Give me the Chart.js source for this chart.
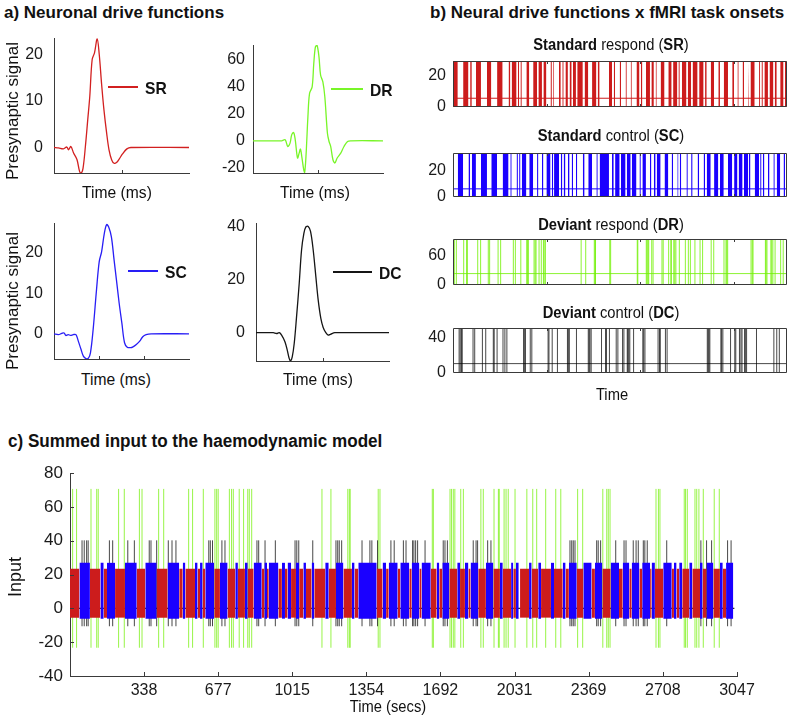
<!DOCTYPE html>
<html>
<head>
<meta charset="utf-8">
<script src="https://cdn.jsdelivr.net/npm/chart.js@4.4.0/dist/chart.umd.min.js"></script>
<style>
  body { margin: 0; background: #fff; width: 789px; height: 720px; position: relative; overflow: hidden;
         font-family: "Liberation Sans", Arial, sans-serif; color: #111; }
  canvas { position: absolute; }
  .t { position: absolute; white-space: nowrap; line-height: 1; }
  .head { font-weight: bold; font-size: 17px; }
  .leg { position: absolute; height: 1.4px; }
</style>
</head>
<body>
<script>
// ---- a) neuronal drive functions (time in ms, arbitrary origin) ----
const srTime   = [0, 13, 28, 38, 43, 50, 58, 68, 76, 81, 86, 93, 100, 106, 113, 120, 128, 134, 141, 148, 156, 163, 171, 178, 186, 193, 203, 216, 228, 400];
const srSignal = [0, -0.1, -0.3, 0.1, -0.5, 0.2, -1.2, -2.6, -5.2, -5.5, -4.5, 0.2, 6.0, 11.0, 18.9, 20.4, 23.4, 20.1, 13.7, 8.1, 3.1, -0.5, -2.7, -3.4, -3.2, -2.5, -1.4, -0.3, 0, 0];

const drTime   = [0, 88, 99, 107, 114, 119, 125, 130, 137, 142, 146, 150, 156, 159, 163, 169, 174, 182, 187, 192, 197, 203, 208, 215, 221, 229, 234, 239, 246, 252, 259, 270, 280, 291, 301, 400];
const drSignal = [0, 0, 0.7, -4.2, -1.7, 4.4, 6.1, 0.7, -12.7, -9.1, -6.1, -11.5, -21.3, -23.3, -11.5, 17.9, 35.0, 39.9, 57.1, 69.4, 70.6, 62.0, 48.5, 43.6, 32.6, 5.6, -0.5, -4.2, -14.0, -16.4, -12.7, -9.1, -4.2, -0.5, 0, 0];

const scTime   = [0, 13, 23, 30, 35, 42, 49, 57, 65, 72, 80, 87, 95, 102, 108, 116, 126, 134, 141, 149, 156, 162, 170, 178, 185, 193, 201, 209, 217, 227, 234, 244, 254, 263, 273, 288, 400];
const scSignal = [0, -0.2, 0.1, 0.2, -0.4, -0.2, -0.4, -0.2, -0.2, -1.8, -3.8, -5.5, -6.1, -6.0, -4.7, 1.1, 10.9, 17.8, 20.2, 24.7, 26.9, 26.3, 23.9, 18.2, 13.3, 7.6, 2.7, -2.2, -3.3, -3.4, -3.2, -2.6, -1.8, -0.7, -0.2, 0, 0];

const dcTime   = [0, 32, 52, 62, 70, 77, 87, 94, 100, 104, 109, 115, 122, 130, 137, 144, 150, 157, 164, 172, 180, 187, 195, 202, 210, 217, 224, 237, 252, 400];
const dcSignal = [0, 0, 0, -0.3, 0, -0.9, -3.4, -6.6, -9.8, -10.6, -9.1, -4.0, 6.1, 18.7, 31.3, 37.6, 40.0, 40.2, 38.3, 31.3, 21.2, 12.4, 5.4, 2.0, 0, -0.9, -0.6, 0, 0, 0];

// ---- b/c) task onsets in seconds ----
// standard trials come in runs: [start, end] of each run
const scBlocks = [[43,91],[139,154],[169,206],[251,305],[344,396],[446,499],[515,527],[571,583],[594,606],[618,659],[685,720],[755,767],[799,812],[839,876],[888,900],[908,952],[968,982],[994,1010],[1032,1047],[1066,1078],[1104,1116],[1166,1182],[1215,1249],[1288,1300],[1317,1401],[1428,1444],[1456,1497],[1509,1550],[1561,1596],[1606,1648],[1675,1687],[1701,1733],[1769,1782],[1804,1820],[1830,1865],[1900,1934],[1964,1977],[2015,2025],[2037,2050],[2097,2109],[2139,2152],[2197,2211],[2251,2264],[2279,2315],[2345,2383],[2398,2432],[2470,2508],[2525,2555],[2566,2601],[2614,2650],[2657,2672],[2710,2749],[2759,2771],[2783,2797],[2829,2843],[2878,2890],[2908,2939],[2969,2982],[2997,3030]];
const srBlocks = [[0,43],[91,139],[154,169],[206,251],[305,344],[396,446],[499,515],[527,571],[583,594],[606,618],[659,685],[720,755],[767,799],[812,839],[876,888],[900,908],[952,968],[982,994],[1010,1032],[1047,1066],[1078,1104],[1116,1166],[1182,1215],[1249,1288],[1300,1317],[1401,1428],[1444,1456],[1497,1509],[1550,1561],[1596,1606],[1648,1675],[1687,1701],[1733,1769],[1782,1804],[1820,1830],[1865,1900],[1934,1964],[1977,2015],[2025,2037],[2056,2097],[2109,2139],[2152,2197],[2211,2251],[2264,2279],[2315,2345],[2383,2398],[2432,2470],[2508,2525],[2555,2566],[2601,2614],[2650,2657],[2672,2710],[2749,2759],[2771,2783],[2797,2829],[2843,2878],[2890,2908],[2939,2969],[2982,2997]];
const drOnsets = [12, 30, 96, 122, 129, 222, 248, 317, 329, 405, 428, 542, 560, 609, 662, 670, 677, 728, 738, 746, 773, 793, 812, 819, 830, 1151, 1192, 1269, 1276, 1280, 1408, 1416, 1655, 1660, 1736, 1743, 1751, 1758, 1785, 1797, 1877, 1888, 1937, 1957, 1961, 1983, 1992, 2002, 2033, 2087, 2114, 2132, 2173, 2219, 2242, 2319, 2342, 2434, 2452, 2459, 2467, 2677, 2688, 2695, 2806, 2812, 2820, 2855, 2863, 2873, 2893, 2943, 2966];
const dcOnsets = [55, 65, 76, 83, 180, 195, 264, 294, 362, 370, 396, 449, 466, 484, 634, 641, 651, 694, 708, 854, 862, 891, 938, 1028, 1036, 1045, 1109, 1215, 1223, 1230, 1241, 1334, 1370, 1379, 1405, 1466, 1481, 1523, 1535, 1565, 1571, 1579, 1588, 1622, 1705, 1713, 1724, 1842, 1855, 1862, 1908, 1923, 2284, 2292, 2299, 2307, 2406, 2413, 2424, 2493, 2531, 2540, 2573, 2586, 2596, 2619, 2626, 2637, 2726, 2882, 2908, 2931, 3004, 3020];
const sessionEnd = 3035;

// ---- ticks ----
const timeTicks  = [338, 677, 1015, 1354, 1692, 2031, 2369, 2708, 3047];
const inputTicks = [-40, -20, 0, 20, 40, 60, 80];
const stripTimeTicks = [840, 1680, 2520];

const RED = '#cc1c1c', BLUE = '#1a00ff', GREEN = 'rgba(112,240,0,0.8)', BLACK = 'rgba(0,0,0,0.72)';
const AXIS = '#3a3a3a';
Chart.defaults.font.family = '"Liberation Sans", Arial, sans-serif';
Chart.defaults.color = '#1a1a1a';

const lo = a => Math.min(...a), hi = a => Math.max(...a);

function curve(time, signal) {
  return time.map((t, i) => ({ x: t, y: signal[i] }));
}
function blocks(list, top) {
  const d = [];
  list.forEach(([s, e]) => { d.push({ x: s, y: top }, { x: e, y: top }, { x: e, y: null }); });
  return d;
}
function sticks(list, bottom, top) {
  const d = [];
  list.forEach(t => { d.push({ x: t, y: bottom }, { x: t, y: top }, { x: t, y: null }); });
  return d;
}

// small inward tick marks and optional frame, drawn through the chart scales
function frame(o) {
  return {
    id: 'frame',
    afterDatasetsDraw(chart) {
      const { ctx, chartArea: a, scales: { x, y } } = chart;
      ctx.save();
      ctx.strokeStyle = AXIS;
      ctx.lineWidth = 1;
      ctx.beginPath();
      (o.xTicks || []).forEach(v => {
        const px = Math.round(x.getPixelForValue(v)) + 0.5;
        ctx.moveTo(px, a.bottom); ctx.lineTo(px, a.bottom - o.len);
        if (o.box) { ctx.moveTo(px, a.top); ctx.lineTo(px, a.top + o.len); }
      });
      (o.yTicks || []).forEach(v => {
        const py = Math.round(y.getPixelForValue(v)) + 0.5;
        ctx.moveTo(a.left, py); ctx.lineTo(a.left + o.len, py);
        if (o.box) { ctx.moveTo(a.right, py); ctx.lineTo(a.right - o.len, py); }
      });
      if (o.box) ctx.rect(a.left + 0.5, a.top + 0.5, a.right - a.left - 1, a.bottom - a.top - 1);
      ctx.stroke();
      ctx.restore();
    }
  };
}

function makeChart(p, o) {
  const c = document.createElement('canvas');
  const w = p.r - p.l + o.yW + o.padR, h = p.b - p.t + o.padT + o.xH;
  c.width = w; c.height = h;
  c.style.left = (p.l - o.yW) + 'px'; c.style.top = (p.t - o.padT) + 'px';
  c.style.width = w + 'px'; c.style.height = h + 'px';
  document.body.appendChild(c);
  return new Chart(c, {
    type: 'line',
    data: { datasets: o.datasets },
    options: {
      responsive: false, animation: false, devicePixelRatio: 1, events: [],
      layout: { padding: { top: o.padT, right: o.padR, left: 0, bottom: 0 } },
      plugins: { legend: { display: false }, tooltip: { enabled: false } },
      elements: { point: { radius: 0 }, line: { tension: 0 } },
      scales: {
        x: {
          type: 'linear', min: o.xMin, max: o.xMax,
          afterBuildTicks: s => { s.ticks = (o.xLabels || []).map(v => ({ value: v })); },
          afterFit: s => { s.height = o.xH; s.paddingLeft = 0; s.paddingRight = 0; },
          grid: { display: false, drawTicks: false },
          border: { display: !o.box, color: AXIS, width: 1 },
          ticks: { display: !!o.xLabels, font: { size: 16 }, padding: 5, maxRotation: 0, autoSkip: false, callback: v => String(v) }
        },
        y: {
          type: 'linear', min: o.yMin, max: o.yMax,
          afterBuildTicks: s => { s.ticks = o.yLabels.map(v => ({ value: v })); },
          afterFit: s => { s.width = o.yW; s.paddingTop = 0; s.paddingBottom = 0; },
          grid: { display: false, drawTicks: false },
          border: { display: !o.box, color: AXIS, width: 1 },
          ticks: { font: { size: o.tickSize || 16 }, padding: o.yPad, autoSkip: false, callback: v => String(v) }
        }
      }
    },
    plugins: [frame({ len: o.tickLen || 3, box: o.box, xTicks: o.xTickMarks, yTicks: o.yTickMarks })]
  });
}

// centred text; sx squeezes it horizontally to match the narrow face of the original
function text(html, x, y, size, opt) {
  opt = opt || {};
  const d = document.createElement('div');
  d.className = 't' + (opt.bold ? ' head' : '');
  d.innerHTML = html;
  d.style.fontSize = size + 'px';
  d.style.left = x + 'px'; d.style.top = y + 'px';
  d.style.transform = 'translate(-50%,-50%)' + (opt.rot ? ' rotate(-90deg)' : '') + ' scaleX(' + (opt.sx || 1) + ')';
  document.body.appendChild(d);
}
function leftText(html, x, y, size, opt) {
  opt = opt || {};
  const d = document.createElement('div');
  d.className = 't' + (opt.bold ? ' head' : '');
  d.innerHTML = html;
  d.style.fontSize = size + 'px';
  d.style.left = x + 'px'; d.style.top = y + 'px';
  d.style.transformOrigin = 'left center';
  d.style.transform = 'translateY(-50%) scaleX(' + (opt.sx || 1) + ')';
  document.body.appendChild(d);
}
function legend(label, color, x1, x2, y) {
  const l = document.createElement('div');
  l.className = 'leg';
  l.style.left = x1 + 'px'; l.style.top = (y - 0.7) + 'px'; l.style.width = (x2 - x1) + 'px';
  l.style.background = color;
  document.body.appendChild(l);
  leftText('<b>' + label + '</b>', x2 + 7, y + 1, 17, { sx: 0.92 });
}

// ---------- panel a ----------
const aPanels = [
  { p: { l: 54, r: 189, t: 38, b: 173 }, time: srTime, sig: srSignal, color: 'rgb(210,32,32)', yMin: -5.5, yMax: 23.6, yLabels: [0, 10, 20], yPad: 11, marks: [200] },
  { p: { l: 253, r: 383, t: 45, b: 173 }, time: drTime, sig: drSignal, color: 'rgb(120,245,40)', yMin: -23.8, yMax: 70.8, yLabels: [-20, 0, 20, 40, 60], yPad: 8, marks: [200] },
  { p: { l: 54, r: 189, t: 223, b: 359 }, time: scTime, sig: scSignal, color: 'rgb(40,30,245)', yMin: -6.2, yMax: 27.3, yLabels: [0, 10, 20], yPad: 11, marks: [133, 267] },
  { p: { l: 256, r: 389, t: 223, b: 361 }, time: dcTime, sig: dcSignal, color: '#151515', yMin: -10.7, yMax: 41.5, yLabels: [0, 20, 40], yPad: 11, marks: [200] }
];
aPanels.forEach(a => {
  makeChart(a.p, {
    yW: 48, xH: 10, padT: 12, padR: 3,
    xMin: 0, xMax: a.time[a.time.length - 1], yMin: a.yMin, yMax: a.yMax,
    yLabels: a.yLabels, yPad: a.yPad, xTickMarks: a.marks, tickLen: 3,
    datasets: [{ data: curve(a.time, a.sig), borderColor: a.color, borderWidth: 1.3, fill: false, tension: 0.35 }]
  });
});

// ---------- panel b ----------
function stripChart(p, yLabels, sets, range) {
  makeChart(p, {
    yW: 40, xH: 10, padT: 10, padR: 2, box: true,
    xMin: 0, xMax: 3000, yMin: 0, yMax: range,
    yLabels: yLabels, yPad: 7, xTickMarks: stripTimeTicks, tickLen: 3,
    datasets: sets
  });
}
const srSpan = hi(srSignal) - lo(srSignal), scSpan = hi(scSignal) - lo(scSignal);
const drSpan = hi(drSignal) - lo(drSignal), dcSpan = hi(dcSignal) - lo(dcSignal);
const baseLine = (level, color) => ({ data: [{ x: 0, y: level }, { x: 3000, y: level }], borderColor: color, borderWidth: 1, fill: false });

stripChart({ l: 453, r: 787, t: 61, b: 107 }, [0, 20], [
  { data: blocks(srBlocks, srSpan), fill: { value: 0 }, backgroundColor: RED, borderWidth: 0, spanGaps: false },
  baseLine(-lo(srSignal), RED)
], srSpan);
stripChart({ l: 453, r: 787, t: 153, b: 197 }, [0, 20], [
  { data: blocks(scBlocks, scSpan), fill: { value: 0 }, backgroundColor: BLUE, borderWidth: 0, spanGaps: false },
  baseLine(-lo(scSignal), BLUE)
], scSpan);
stripChart({ l: 453, r: 787, t: 239, b: 285 }, [0, 60], [
  { data: sticks(drOnsets, 0, drSpan), borderColor: GREEN, borderWidth: 1, fill: false, spanGaps: false },
  baseLine(-lo(drSignal), GREEN)
], drSpan);
stripChart({ l: 453, r: 787, t: 328, b: 373 }, [0, 40], [
  { data: sticks(dcOnsets, 0, dcSpan), borderColor: BLACK, borderWidth: 1, fill: false, spanGaps: false },
  baseLine(-lo(dcSignal), BLACK)
], dcSpan);

// ---------- panel c ----------
makeChart({ l: 70, r: 737, t: 473, b: 676 }, {
  yW: 70, xH: 30, padT: 12, padR: 30,
  xMin: 0, xMax: 3047, yMin: -40, yMax: 80,
  xLabels: timeTicks, yLabels: inputTicks, yPad: 7, tickSize: 17,
  xTickMarks: timeTicks, yTickMarks: inputTicks, tickLen: 4,
  datasets: [
    { data: blocks(srBlocks, hi(srSignal)), fill: { value: lo(srSignal) }, backgroundColor: RED, borderWidth: 0, spanGaps: false },
    { data: blocks(scBlocks, hi(scSignal)), fill: { value: lo(scSignal) }, backgroundColor: BLUE, borderWidth: 0, spanGaps: false },
    { data: sticks(dcOnsets, lo(dcSignal), hi(dcSignal)), borderColor: BLACK, borderWidth: 1, fill: false, spanGaps: false },
    { data: [{ x: 0, y: 0 }, { x: sessionEnd, y: 0 }], borderColor: 'rgba(20,20,20,0.9)', borderWidth: 1.3, fill: false },
    { data: sticks(drOnsets, lo(drSignal), hi(drSignal)), borderColor: 'rgba(112,240,0,0.72)', borderWidth: 1, fill: false, spanGaps: false }
  ]
});

// ---------- text ----------
leftText('a) Neuronal drive functions', 4, 12, 17, { bold: true });
leftText('b) Neural drive functions x fMRI task onsets', 430, 12, 17, { bold: true });
leftText('c) Summed input to the haemodynamic model', 8, 441, 18, { bold: true, sx: 0.95 });

text('Presynaptic signal', 12, 111, 17, { rot: true });
text('Presynaptic signal', 12, 301, 17, { rot: true });
[[117, 192], [315, 192], [116, 379], [318, 379]].forEach(([x, y]) => text('Time (ms)', x, y, 17, { sx: 0.92 }));

legend('SR', 'rgb(210,32,32)', 108, 138, 87);
legend('DR', 'rgb(120,245,40)', 331, 363, 89);
legend('SC', 'rgb(40,30,245)', 128, 158, 271);
legend('DC', '#151515', 333, 372, 272);

[['<b>Standard</b> respond (<b>SR</b>)', 45], ['<b>Standard</b> control (<b>SC</b>)', 136],
 ['<b>Deviant</b> respond (<b>DR</b>)', 225], ['<b>Deviant</b> control (<b>DC</b>)', 313]].forEach(([s, y]) => {
  text(s, 611, y, 16, { sx: 0.92 });
});
text('Time', 612, 395, 16, { sx: 0.92 });

text('Input', 15, 577, 18, { rot: true });
text('Time (secs)', 388, 707, 16, { sx: 0.92 });
</script>
</body>
</html>
